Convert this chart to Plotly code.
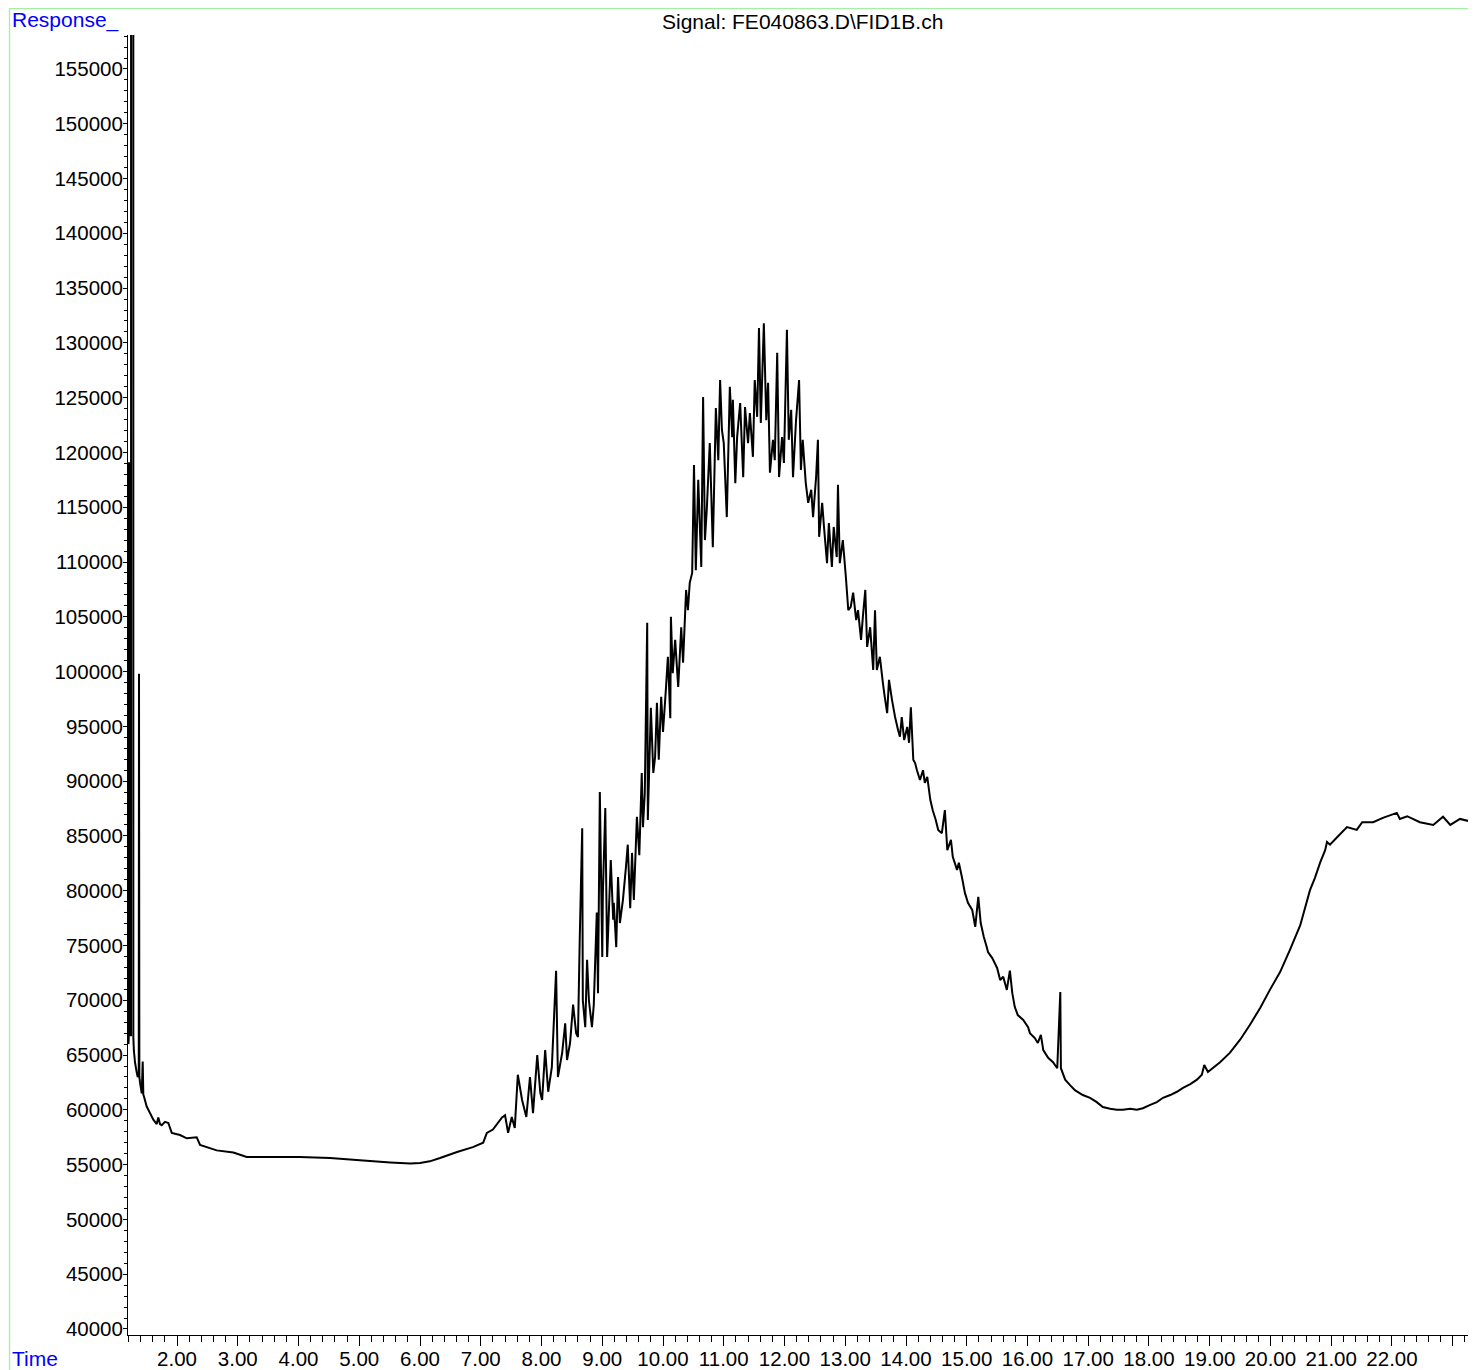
import plotly.graph_objects as go

# Retention time (min) and detector response
time_min = [
    1.200, 1.205, 1.210, 1.215, 1.230, 1.243, 1.245, 1.279, 1.281, 1.290,
    1.309, 1.337, 1.353, 1.370, 1.374, 1.380, 1.391, 1.419, 1.435, 1.445,
    1.457, 1.501, 1.556, 1.610, 1.666, 1.692, 1.720, 1.748, 1.802, 1.857,
    1.913, 2.049, 2.160, 2.324, 2.379, 2.653, 2.927, 3.147, 3.53, 4.02,
    4.52, 5.01, 5.51, 5.84, 6.00, 6.16, 6.33, 6.61, 6.87, 7.04,
    7.10, 7.20, 7.35, 7.40, 7.45, 7.51, 7.56, 7.61, 7.68, 7.75,
    7.81, 7.86, 7.93, 7.98, 8.01, 8.06, 8.11, 8.17, 8.24, 8.27,
    8.34, 8.39, 8.42, 8.47, 8.52, 8.57, 8.60, 8.63, 8.67, 8.68,
    8.72, 8.75, 8.78, 8.83, 8.86, 8.91, 8.93, 8.96, 9.00, 9.01,
    9.05, 9.08, 9.09, 9.14, 9.18, 9.19, 9.23, 9.26, 9.29, 9.34,
    9.39, 9.42, 9.46, 9.49, 9.52, 9.57, 9.61, 9.65, 9.67, 9.70,
    9.74, 9.75, 9.80, 9.84, 9.87, 9.90, 9.93, 9.97, 10.00, 10.05,
    10.08, 10.12, 10.13, 10.16, 10.20, 10.25, 10.30, 10.33, 10.38, 10.41,
    10.44, 10.48, 10.51, 10.54, 10.58, 10.63, 10.66, 10.69, 10.72, 10.77,
    10.82, 10.87, 10.91, 10.94, 10.97, 11.00, 11.05, 11.10, 11.14, 11.15,
    11.19, 11.22, 11.27, 11.32, 11.35, 11.40, 11.43, 11.48, 11.51, 11.55,
    11.58, 11.61, 11.66, 11.70, 11.73, 11.76, 11.81, 11.84, 11.88, 11.91,
    11.96, 11.99, 12.04, 12.07, 12.11, 12.14, 12.19, 12.24, 12.27, 12.30,
    12.35, 12.39, 12.44, 12.47, 12.52, 12.55, 12.57, 12.62, 12.65, 12.70,
    12.73, 12.78, 12.81, 12.86, 12.88, 12.91, 12.96, 13.01, 13.05, 13.09,
    13.13, 13.18, 13.21, 13.26, 13.29, 13.33, 13.36, 13.41, 13.46, 13.49,
    13.52, 13.57, 13.62, 13.65, 13.69, 13.72, 13.77, 13.82, 13.87, 13.90,
    13.93, 13.97, 14.02, 14.05, 14.08, 14.12, 14.15, 14.18, 14.23, 14.28,
    14.31, 14.35, 14.40, 14.44, 14.49, 14.53, 14.59, 14.64, 14.68, 14.74,
    14.77, 14.84, 14.87, 14.92, 14.97, 15.02, 15.09, 15.14, 15.19, 15.23,
    15.28, 15.33, 15.35, 15.42, 15.50, 15.55, 15.60, 15.66, 15.71, 15.75,
    15.79, 15.84, 15.93, 16.01, 16.04, 16.12, 16.17, 16.22, 16.26, 16.34,
    16.42, 16.49, 16.54, 16.55, 16.62, 16.70, 16.78, 16.91, 17.03, 17.14,
    17.24, 17.36, 17.47, 17.57, 17.69, 17.80, 17.90, 18.02, 18.13, 18.23,
    18.35, 18.46, 18.56, 18.68, 18.79, 18.87, 18.91, 18.97, 19.17, 19.33,
    19.50, 19.66, 19.83, 19.99, 20.16, 20.32, 20.49, 20.65, 20.73, 20.82,
    20.90, 20.93, 20.98, 21.10, 21.26, 21.42, 21.51, 21.69, 21.85, 22.08,
    22.13, 22.25, 22.46, 22.68, 22.84, 22.96, 23.12, 23.38,
]

response = [
    66000, 66500, 119100, 67000, 66800, 66800, 400000, 400000, 66600, 65400,
    64300, 63400, 63000, 63200, 99800, 63000, 62500, 61500, 64400, 61400,
    61200, 60300, 59700, 59100, 58700, 59300, 58700, 58600, 58900, 58800,
    57900, 57700, 57400, 57500, 56800, 56300, 56100, 55700, 55700, 55700,
    55600, 55400, 55200, 55100, 55150, 55300, 55600, 56150, 56600, 57000,
    57900, 58200, 59300, 59500, 57900, 59350, 58350, 63200, 60900, 59350,
    63000, 59700, 65000, 61550, 60900, 65450, 61650, 63900, 72700, 63000,
    65200, 67900, 64550, 66100, 69600, 67000, 66650, 75800, 85700, 70000,
    67550, 73700, 70000, 67550, 69550, 78000, 70650, 89000, 73950, 79800,
    87550, 73950, 75250, 82800, 77350, 78900, 74850, 81250, 77050, 79150,
    82150, 84200, 78400, 83450, 79150, 86750, 83250, 90750, 85800, 88900,
    104450, 86450, 96700, 90750, 92200, 97150, 91950, 97700, 94500, 98600,
    101350, 95750, 105000, 99850, 102900, 98600, 104050, 100800, 107450, 105600,
    108100, 109000, 118850, 109250, 117500, 109550, 125050, 112000, 114750, 120850,
    111350, 124050, 119300, 126600, 122050, 120850, 114100, 126000, 121400, 124800,
    117200, 121400, 124500, 117750, 124150, 120850, 123600, 119600, 126600, 123250,
    131350, 122700, 131800, 122950, 126350, 118150, 121150, 119300, 129100, 117750,
    121400, 119050, 131200, 121150, 123900, 117750, 122950, 126600, 118400, 121150,
    117200, 115400, 116600, 114100, 117750, 121150, 112300, 115400, 113200, 109900,
    113550, 109550, 113200, 110450, 117050, 109900, 112000, 108650, 105600, 105900,
    107200, 104700, 105600, 102900, 105000, 107450, 102250, 104050, 100150, 105600,
    100150, 101350, 98950, 97700, 96200, 99250, 97400, 95850, 94650, 94050,
    95850, 93750, 94950, 93500, 96750, 91950, 91650, 91000, 90100, 91000,
    89850, 90400, 88300, 87350, 86450, 85550, 85250, 87350, 83700, 84650,
    83100, 81900, 82550, 81250, 79800, 78900, 78250, 76700, 79450, 77050,
    75800, 74850, 74400, 73850, 72950, 71850, 72150, 70950, 72700, 70650,
    69400, 68650, 68200, 67550, 67000, 66550, 66100, 66850, 65450, 64750,
    64350, 63800, 70750, 63800, 62750, 62250, 61800, 61350, 61100, 60700,
    60250, 60100, 60000, 60000, 60100, 60000, 60150, 60450, 60700, 61100,
    61350, 61650, 62000, 62350, 62750, 63200, 64100, 63450, 64350, 65200,
    66400, 67750, 69300, 70950, 72600, 74600, 76850, 80050, 81150, 82600,
    83700, 84450, 84200, 84900, 85800, 85550, 86250, 86250, 86650, 87100,
    86550, 86800, 86250, 86000, 86750, 86000, 86550, 86200,
]

x_tick_values = [2, 3, 4, 5, 6, 7, 8, 9, 10, 11, 12, 13, 14, 15, 16, 17,
                 18, 19, 20, 21, 22, 23]
x_tick_labels = ["2.00", "3.00", "4.00", "5.00", "6.00", "7.00", "8.00",
                 "9.00", "10.00", "11.00", "12.00", "13.00", "14.00",
                 "15.00", "16.00", "17.00", "18.00", "19.00", "20.00",
                 "21.00", "22.00", ""]

title_text = "Signal: FE040863.D\\FID1B.ch"
y_label = "Response_"
x_label = "Time"

FONT = "Liberation Sans, Arial, sans-serif"
# the page body adds an 8 px offset, so figure coordinates = page - 8
W, H = 1468, 1362
ML, MR, MT, MB = 120, 0, 27, 35
PW, PH = W - ML - MR, H - MT - MB


def px_x(px):
    return (px - ML) / PW


def px_y(py):
    return (H - MB - py) / PH


fig = go.Figure(
    go.Scatter(
        x=time_min,
        y=response,
        mode="lines",
        line=dict(color="black", width=2, simplify=False),
        hoverinfo="skip",
    )
)

fig.update_layout(
    width=W,
    height=H,
    autosize=False,
    margin=dict(l=ML, r=MR, t=MT, b=MB, pad=0, autoexpand=False),
    paper_bgcolor="white",
    plot_bgcolor="white",
    showlegend=False,
    font=dict(family=FONT, size=21, color="black"),
    xaxis=dict(
        range=[1.193, 23.383],
        automargin=False,
        tickmode="array",
        tickvals=x_tick_values,
        ticktext=x_tick_labels,
        ticks="outside",
        ticklen=10,
        tickwidth=1,
        tickcolor="black",
        showline=True,
        linecolor="black",
        linewidth=1,
        showgrid=False,
        zeroline=False,
        ticklabelstandoff=-5,
        tickfont=dict(family=FONT, size=20.5, color="black"),
        minor=dict(tickmode="linear", tick0=0, dtick=0.2, ticks="outside",
                   ticklen=6, tickcolor="black", tickwidth=1, showgrid=False),
    ),
    yaxis=dict(
        range=[39450, 158100],
        automargin=False,
        tickmode="linear",
        tick0=0,
        dtick=5000,
        tickformat="d",
        ticks="outside",
        ticklen=4,
        tickwidth=1,
        tickcolor="black",
        showline=True,
        linecolor="black",
        linewidth=1,
        showgrid=False,
        zeroline=False,
        ticklabelstandoff=-4,
        tickfont=dict(family=FONT, size=20.5, color="black"),
        minor=dict(tickmode="linear", tick0=0, dtick=1000, ticks="outside",
                   ticklen=3, tickcolor="black", tickwidth=1, showgrid=False),
    ),
    shapes=[
        dict(type="rect", xref="paper", yref="paper",
             x0=px_x(1.5), x1=px_x(1490), y0=px_y(1390), y1=px_y(0.5),
             line=dict(color="#a6eea6", width=1.3), fillcolor="rgba(0,0,0,0)",
             layer="below"),
    ],
    annotations=[
        dict(text=y_label, xref="paper", yref="paper", x=px_x(2), y=px_y(12),
             xanchor="left", yanchor="middle", showarrow=False,
             font=dict(family=FONT, size=21, color="#0000ff")),
        dict(text=x_label, xref="paper", yref="paper", x=px_x(2), y=px_y(1350),
             xanchor="left", yanchor="middle", showarrow=False,
             font=dict(family=FONT, size=21, color="#0000ff")),
        dict(text=title_text, xref="paper", yref="paper", x=0.5, y=px_y(14),
             xanchor="center", yanchor="middle", showarrow=False,
             font=dict(family=FONT, size=21, color="black")),
    ],
)

fig.write_html("out.html")
